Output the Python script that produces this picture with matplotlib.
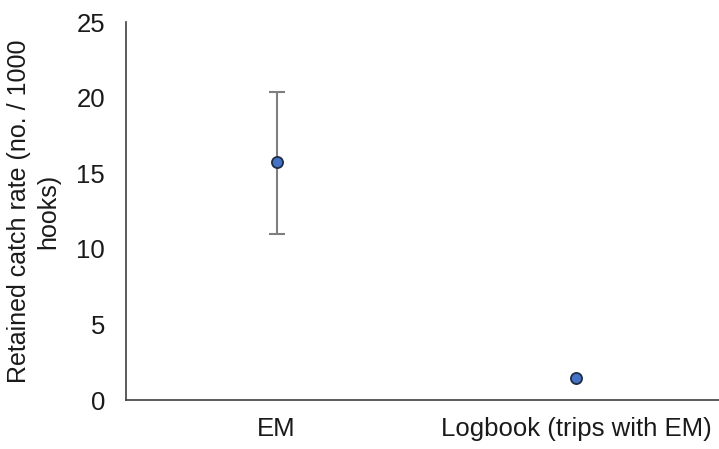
import numpy as np
import matplotlib.pyplot as plt

plt.rcParams['font.family'] = ['Liberation Sans', 'DejaVu Sans']

# Datos
categorias = ['EM', 'Logbook (trips with EM)']
tasa = [15.75, 1.45]
err_inf = [4.75, 0.0]
err_sup = [4.65, 0.0]

fig = plt.figure(figsize=(7.19, 4.49), dpi=100)
ax = fig.add_axes([0.1752, 0.109, 0.8248, 0.842])

x = np.arange(len(categorias))
ax.errorbar(x[:1], tasa[:1], yerr=[err_inf[:1], err_sup[:1]], fmt='none',
            ecolor='#7f7f7f', elinewidth=1.5, capsize=6, capthick=1.5, zorder=2)
ax.plot(x, tasa, 'o', markersize=8, markerfacecolor='#4472c4',
        markeredgecolor='#1f2d45', markeredgewidth=1.3, zorder=3)

ax.set_xlim(-0.503, 1.477)
ax.set_ylim(0, 25)
ax.set_yticks(np.arange(0, 30, 5))
ax.set_xticks(x)
ax.set_xticklabels(categorias)
ax.tick_params(axis='both', length=0, labelsize=18.5, colors='#1a1a1a')
ax.tick_params(axis='y', pad=15)
ax.tick_params(axis='x', pad=12)
for s in ['top', 'right']:
    ax.spines[s].set_visible(False)
for s in ['left', 'bottom']:
    ax.spines[s].set_color('#404040')
    ax.spines[s].set_linewidth(1.2)

ax.set_ylabel('Retained catch rate (no. / 1000\nhooks)', fontsize=18,
              color='#1a1a1a', linespacing=1.3)
ax.yaxis.set_label_coords(-0.11, 0.5)

fig.savefig('out.png', dpi=100)
